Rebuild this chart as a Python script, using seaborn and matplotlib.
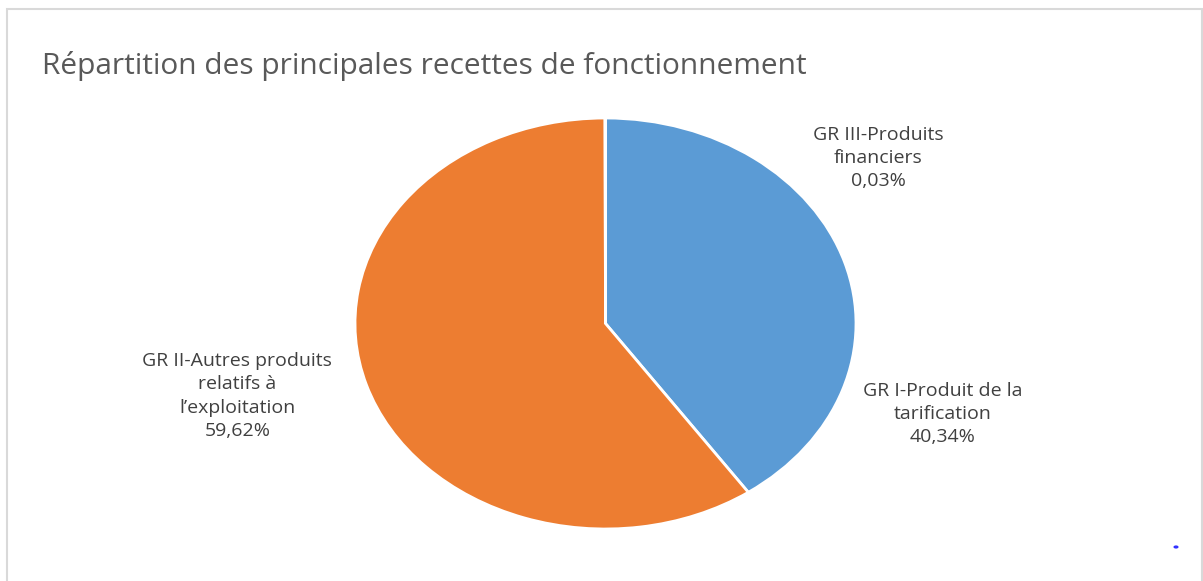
import matplotlib
matplotlib.use("Agg")
import matplotlib.pyplot as plt
import seaborn as sns
from matplotlib.patches import Rectangle

# data
labels = ["GR I-Produit de la\ntarification",
          "GR II-Autres produits\nrelatifs à\nl\u2019exploitation",
          "GR III-Produits\nfinanciers"]
values = [40.34, 59.62, 0.03]
value_text = ["40,34%", "59,62%", "0,03%"]
colors = ["#5B9BD5", "#ED7D31", "#A5A5A5"]

sns.set_theme(style="white")
plt.rcParams["font.family"] = ["Open Sans", "DejaVu Sans"]

fig = plt.figure(figsize=(12.03, 5.81), dpi=100)
fig.patch.set_facecolor("white")

# chart frame
fig.add_artist(Rectangle((7 / 1203, -0.05), (1202 - 7) / 1203, 1.05 - 9 / 581,
                         transform=fig.transFigure, fill=False,
                         edgecolor="#D9D9D9", linewidth=1.5))

ax = fig.add_axes([355 / 1203, (581 - 529) / 581, 501 / 1203, 411 / 581])
ax.pie(values, colors=sns.color_palette(colors), startangle=90, counterclock=False,
       wedgeprops=dict(edgecolor="white", linewidth=2))
ax.set_aspect("auto")
ax.set_xlim(-1, 1)
ax.set_ylim(-1, 1)
ax.axis("off")

# label positions in axes data units
label_pos = [(1.345, -0.44), (-1.47, -0.353), (1.09, 0.805)]
for lab, txt, (x, y) in zip(labels, value_text, label_pos):
    ax.text(x, y, f"{lab}\n{txt}", ha="center", va="center", fontsize=14,
            color="#404040", linespacing=1.38, clip_on=False)

fig.text(42 / 1203, 1 - 66 / 581, "Répartition des principales recettes de fonctionnement",
         fontsize=21.5, color="#595959", ha="left", va="center")

fig.add_artist(plt.Circle((1176 / 1203, 1 - 547 / 581), 0.0015, transform=fig.transFigure,
                          color="#3030FF"))

fig.savefig("out.png", dpi=100)
